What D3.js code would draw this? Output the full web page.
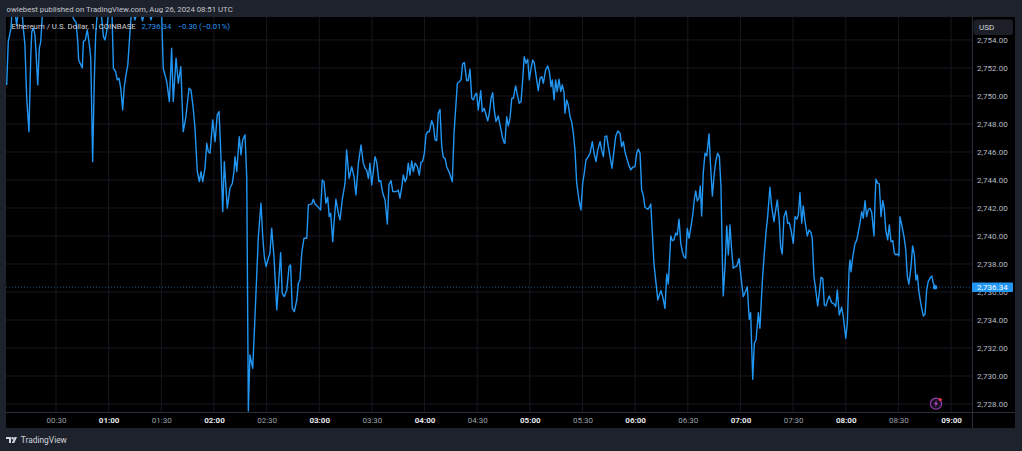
<!DOCTYPE html>
<html>
<head>
<meta charset="utf-8">
<script src="https://cdn.jsdelivr.net/npm/d3@7"></script>
<style>
  body { margin: 0; background: #1e222d; overflow: hidden; }
  svg { display: block; font-family: Roboto, "Noto Sans", sans-serif; }
</style>
</head>
<body>
<div id="chart"></div>
<script>

// ETH/USD 1-minute line, Aug 26 2024

// minutes after 00:00 UTC
const minutes = [
  1.9,2.8,4.4,4.8,5.8,6.6,7.6,8.5,9.5,10.5,11.2,12.3,
  13.3,14.6,15.6,16.2,17.1,18.0,18.6,19.6,20.5,21.3,22.2,23.2,
  24.9,26.6,28.3,30.0,31.7,33.4,35.1,36.8,38.9,40.3,41.4,42.4,
  42.9,44.2,45.0,45.6,46.7,47.8,48.8,49.8,50.9,51.8,52.6,53.5,
  54.5,55.6,57.0,57.9,58.9,59.8,60.8,61.9,62.7,64.0,64.9,65.9,
  66.9,68.0,68.8,69.9,70.9,71.8,72.7,73.9,75.0,76.2,77.3,78.4,
  79.3,80.4,81.9,83.0,84.1,85.3,86.4,87.8,89.3,90.2,91.1,92.1,
  93.1,94.6,95.9,96.8,98.4,99.7,101.1,102.5,103.9,105.8,106.9,108.2,
  109.2,110.5,111.7,112.6,113.6,114.9,115.9,116.8,117.8,119.3,120.6,121.9,
  122.9,123.8,125.0,125.9,127.6,129.1,130.5,131.4,132.0,133.0,134.4,135.4,
  136.4,137.7,138.7,139.6,140.5,142.1,143.4,145.3,146.8,147.8,148.7,149.7,
  151.0,151.9,152.9,154.2,155.8,156.7,158.0,158.9,160.1,161.5,162.8,163.7,
  164.6,165.8,167.2,168.1,169.0,170.0,171.3,172.9,173.8,175.7,176.6,177.6,
  179.5,180.8,181.7,182.7,183.8,184.8,185.7,186.5,187.7,188.4,189.5,190.9,
  191.8,193.1,194.7,195.6,197.0,198.5,199.8,200.9,202.3,203.8,205.1,206.1,
  207.0,208.0,208.9,209.9,210.8,211.8,212.7,214.0,215.0,216.2,217.5,218.8,
  219.7,220.9,221.9,224.1,225.0,226.0,227.2,227.9,228.9,229.8,230.7,231.7,
  232.7,233.6,234.6,235.9,237.0,238.0,238.9,239.9,240.8,241.8,242.7,244.1,
  245.0,246.0,246.9,247.8,248.8,249.8,250.7,251.7,252.6,253.9,254.9,255.8,
  256.8,257.8,258.7,259.8,260.8,261.7,262.7,264.0,264.9,265.9,266.9,267.8,
  268.8,269.7,270.6,272.0,272.9,273.9,274.8,276.0,276.9,277.9,278.8,279.7,
  280.7,282.0,283.0,284.3,285.3,285.8,286.8,287.7,288.7,289.7,290.6,291.9,
  293.1,294.0,295.0,295.9,296.8,297.8,298.8,299.7,300.7,301.6,302.5,303.9,
  304.8,305.8,306.8,307.7,309.0,310.2,311.1,312.1,312.8,313.8,314.7,315.6,
  316.6,317.6,318.5,319.5,320.0,321.0,321.9,322.9,323.8,324.8,325.7,326.7,
  328.0,329.1,330.1,331.0,332.0,333.3,334.3,335.6,336.6,337.7,338.7,340.0,
  340.9,341.9,342.8,343.8,344.7,345.7,346.8,348.0,348.9,350.1,351.4,352.3,
  353.3,354.2,355.5,356.7,357.6,358.6,359.9,360.9,361.8,362.8,363.7,364.6,
  365.6,367.2,368.1,368.9,369.8,370.7,371.9,372.9,373.8,374.7,375.7,377.0,
  378.0,378.9,380.3,381.2,382.1,383.1,384.0,385.0,386.0,386.9,387.8,388.8,
  389.7,390.7,391.8,392.8,393.7,394.5,395.4,396.4,397.1,397.9,398.8,399.8,
  400.8,402.1,402.8,404.0,405.1,406.1,407.0,408.0,408.9,409.7,410.2,411.2,
  412.2,413.1,414.0,415.0,415.9,416.9,417.9,419.2,420.3,421.6,422.6,423.9,
  425.0,425.8,427.0,427.9,428.9,430.2,431.1,432.5,433.6,434.6,435.5,436.8,
  437.8,439.1,440.1,441.0,442.1,442.9,443.8,444.8,446.0,446.9,447.8,448.8,
  450.1,451.1,452.1,453.0,453.9,454.9,455.8,456.8,458.1,459.1,460.2,460.9,
  461.9,462.9,464.0,464.9,465.9,466.9,467.8,468.7,469.7,470.6,472.0,473.3,
  474.3,475.2,476.3,477.7,478.6,480.0,480.9,481.9,482.4,483.0,484.0,485.3,
  486.2,487.2,488.1,489.1,490.0,491.0,491.9,492.9,493.8,494.8,496.1,496.7,
  497.2,498.2,499.1,500.1,501.1,502.0,502.8,503.9,504.8,505.8,506.8,507.7,
  508.6,509.6,510.3,510.9,511.9,513.2,514.2,515.1,516.0,517.2,518.1,519.1,
  520.0,520.8,521.7,522.9,524.2,525.2,526.1,527.0,528.0,529.0,529.9,530.9
];

// close price, USD
const prices = [
  2750.79,2753.88,2754.86,2755.86,2756.29,2756.00,2755.07,2756.15,2755.72,2756.29,2755.07,2753.65,
  2749.86,2747.45,2752.72,2754.60,2754.86,2754.36,2753.17,2750.79,2753.43,2753.86,2755.72,2756.29,
  2756.86,2757.43,2757.07,2757.72,2757.22,2756.72,2757.29,2756.57,2755.86,2755.43,2755.29,2753.88,
  2752.57,2752.22,2752.00,2753.88,2754.00,2754.72,2753.88,2752.72,2745.31,2751.02,2754.36,2755.86,
  2756.29,2756.15,2754.24,2754.00,2754.60,2755.86,2756.29,2756.00,2751.98,2751.74,2751.15,2751.27,
  2750.55,2749.00,2750.55,2751.50,2752.22,2753.88,2755.55,2756.00,2755.43,2755.93,2756.29,2755.86,
  2755.36,2756.00,2756.50,2756.15,2755.43,2756.00,2756.57,2756.86,2756.43,2755.86,2751.98,2751.50,
  2751.02,2749.60,2753.41,2749.60,2752.70,2750.91,2752.10,2747.45,2748.41,2750.55,2750.43,2749.12,
  2747.70,2744.60,2743.88,2744.60,2743.88,2744.84,2746.62,2746.02,2745.91,2748.29,2746.74,2748.65,
  2748.88,2746.27,2741.74,2745.31,2741.98,2743.41,2743.77,2744.60,2745.67,2744.60,2747.10,2745.79,
  2746.86,2747.22,2744.12,2727.50,2731.50,2730.55,2734.29,2739.95,2742.34,2739.95,2738.52,2737.81,
  2738.41,2738.77,2740.55,2738.52,2734.72,2736.38,2738.81,2735.91,2735.67,2736.15,2737.81,2737.93,
  2734.84,2734.60,2735.43,2736.62,2736.86,2738.77,2739.84,2739.84,2742.22,2742.29,2742.62,2742.29,
  2742.05,2741.86,2744.00,2743.88,2742.34,2742.77,2741.38,2741.62,2739.60,2740.91,2742.62,2741.62,
  2741.15,2742.57,2743.77,2746.15,2744.12,2744.95,2744.24,2742.93,2745.20,2746.50,2745.20,2744.84,
  2744.72,2744.12,2745.20,2743.65,2744.60,2745.67,2745.31,2743.88,2743.95,2743.05,2742.57,2740.86,
  2743.65,2743.95,2743.17,2743.17,2743.29,2742.70,2743.65,2744.36,2743.88,2744.12,2745.20,2744.36,
  2745.36,2744.60,2745.20,2744.95,2744.36,2745.27,2745.31,2745.91,2747.22,2747.45,2747.45,2748.24,
  2747.93,2746.86,2746.81,2748.77,2749.04,2746.38,2745.62,2745.55,2744.95,2744.60,2744.24,2743.88,
  2747.34,2749.24,2750.91,2751.02,2751.15,2752.29,2752.38,2751.10,2751.10,2751.91,2749.84,2749.72,
  2750.07,2750.20,2749.00,2750.38,2748.88,2749.12,2748.77,2748.22,2748.77,2749.84,2750.24,2749.00,
  2748.17,2748.57,2747.93,2747.10,2746.67,2746.62,2748.52,2747.86,2748.41,2749.84,2749.84,2750.72,
  2749.95,2749.48,2749.60,2751.15,2752.81,2752.34,2752.62,2751.15,2751.98,2752.57,2752.38,2751.15,
  2750.38,2751.27,2751.38,2750.91,2751.86,2752.15,2751.74,2750.67,2751.15,2749.72,2751.15,2750.31,
  2751.20,2750.31,2750.79,2750.20,2748.77,2749.72,2749.36,2748.52,2748.17,2747.34,2746.15,2743.77,
  2742.57,2741.86,2743.77,2744.48,2745.43,2745.67,2745.91,2746.74,2745.91,2745.31,2746.15,2746.74,
  2746.15,2745.67,2747.10,2747.15,2746.38,2745.67,2744.84,2746.15,2747.10,2747.50,2747.34,2746.38,
  2746.74,2746.02,2745.43,2744.95,2744.72,2744.91,2744.95,2745.91,2746.20,2745.91,2743.29,2742.93,
  2742.05,2741.91,2742.05,2742.29,2740.20,2738.05,2736.62,2735.43,2735.79,2736.10,2735.67,2734.84,
  2737.29,2736.57,2740.00,2739.67,2739.72,2740.20,2740.07,2741.20,2739.48,2738.88,2738.52,2738.41,
  2740.55,2739.84,2740.67,2741.50,2742.57,2743.22,2742.50,2742.70,2743.57,2741.43,2744.48,2745.91,
  2745.72,2747.29,2745.43,2742.86,2744.48,2745.43,2745.91,2745.67,2743.52,2738.29,2735.72,2737.81,
  2740.72,2738.65,2740.79,2739.00,2737.70,2737.81,2737.84,2738.40,2737.10,2735.67,2735.95,2736.38,
  2734.05,2734.52,2729.77,2732.34,2732.57,2734.52,2733.41,2736.86,2738.77,2740.31,2741.38,2743.48,
  2742.10,2741.02,2741.86,2742.57,2741.15,2739.24,2738.72,2741.38,2741.79,2740.91,2740.95,2740.43,
  2739.48,2741.38,2741.20,2741.50,2743.10,2740.91,2742.15,2741.02,2740.00,2740.43,2740.24,2739.84,
  2737.10,2736.15,2735.00,2735.91,2737.05,2736.98,2735.07,2735.00,2735.43,2735.72,2735.24,2735.15,
  2734.95,2736.15,2734.36,2734.91,2734.24,2732.70,2733.77,2737.57,2738.29,2737.45,2738.52,2739.48,
  2739.67,2740.31,2740.91,2741.74,2741.27,2742.52,2741.38,2741.91,2741.98,2741.67,2740.00,2742.57,
  2744.05,2743.77,2743.72,2741.38,2742.52,2741.91,2740.43,2739.72,2740.79,2739.60,2739.67,2738.77,
  2738.65,2738.72,2738.57,2741.38,2740.79,2739.95,2739.00,2737.10,2736.57,2737.81,2739.29,2738.65,
  2736.86,2737.22,2736.02,2735.07,2734.29,2734.43,2736.15,2736.74,2736.98,2737.15,2736.62,2736.34
];

// axis ticks
const timeTicks = [30,60,90,120,150,180,210,240,270,300,330,360,390,420,450,480,510,540];
const priceTicks = [2728,2730,2732,2734,2736,2738,2740,2742,2744,2746,2748,2750,2752,2754];
const lastPrice = 2736.34;
const change = "\u22120.30 (\u22120.01%)";

const width = 1022;
const height = 451;
const pane = {left: 6, right: 972, top: 17, bottom: 412};
const frameRight = 1015, frameBottom = 428;

const blue = "#2196f3";
const grid = "#16181e";
const border = "#2a2e39";
const textColor = "#d1d4dc";

const svg = d3.select("#chart")
  .append("svg")
  .attr("width", width)
  .attr("height", height);

// background + chart frame
svg.append("rect")
  .attr("width", width).attr("height", height)
  .attr("fill", "#1e222d");

svg.append("rect")
  .attr("x", pane.left).attr("y", pane.top)
  .attr("width", frameRight - pane.left).attr("height", frameBottom - pane.top)
  .attr("fill", "#000");

// scales
const x = d3.scaleLinear()
  .domain([1.51, 551.94])
  .range([pane.left, pane.right]);

const y = d3.scaleLinear()
  .domain([2727.43, 2755.64])
  .range([pane.bottom, pane.top]);

// grid
svg.append("g")
  .selectAll("line")
  .data(timeTicks)
  .join("line")
  .attr("x1", d => x(d)).attr("x2", d => x(d))
  .attr("y1", pane.top).attr("y2", pane.bottom)
  .attr("stroke", grid);

svg.append("g")
  .selectAll("line")
  .data(priceTicks)
  .join("line")
  .attr("x1", pane.left).attr("x2", pane.right)
  .attr("y1", d => y(d)).attr("y2", d => y(d))
  .attr("stroke", grid);

// axis borders
svg.append("line")
  .attr("x1", pane.right + 0.5).attr("x2", pane.right + 0.5)
  .attr("y1", pane.top).attr("y2", frameBottom)
  .attr("stroke", border);
svg.append("line")
  .attr("x1", pane.left).attr("x2", frameRight)
  .attr("y1", pane.bottom + 0.5).attr("y2", pane.bottom + 0.5)
  .attr("stroke", border);

// price line (dotted)
svg.append("line")
  .attr("x1", pane.left).attr("x2", pane.right)
  .attr("y1", y(lastPrice)).attr("y2", y(lastPrice))
  .attr("stroke", blue)
  .attr("stroke-opacity", 0.55)
  .attr("stroke-dasharray", "1,2");

// series line
svg.append("clipPath").attr("id", "pane-clip")
  .append("rect")
  .attr("x", pane.left).attr("y", pane.top)
  .attr("width", pane.right - pane.left).attr("height", pane.bottom - pane.top);

const data = d3.zip(minutes, prices);

const line = d3.line()
  .x(d => x(d[0]))
  .y(d => y(d[1]));

svg.append("path")
  .datum(data)
  .attr("clip-path", "url(#pane-clip)")
  .attr("fill", "none")
  .attr("stroke", blue)
  .attr("stroke-width", 1.4)
  .attr("stroke-linejoin", "round")
  .attr("d", line);

const last = data[data.length - 1];
svg.append("circle")
  .attr("cx", x(last[0])).attr("cy", y(last[1]))
  .attr("r", 2.2)
  .attr("fill", blue);

// price axis
const fmtPrice = d3.format(",.2f");
const yAxis = svg.append("g")
  .attr("transform", `translate(${pane.right}, 0)`)
  .call(d3.axisRight(y).tickValues(priceTicks).tickFormat(fmtPrice).tickSize(0).tickPadding(5));
yAxis.select(".domain").remove();
yAxis.selectAll("text")
  .attr("fill", "#b8bcc6")
  .attr("font-size", "8px")
  .attr("font-family", "Roboto, sans-serif");

// time axis
const fmtTime = m => String(Math.floor(m / 60)).padStart(2, "0") + ":" + String(m % 60).padStart(2, "0");
const xAxis = svg.append("g")
  .attr("transform", `translate(0, ${pane.bottom})`)
  .call(d3.axisBottom(x).tickValues(timeTicks).tickFormat(fmtTime).tickSize(0).tickPadding(5));
xAxis.select(".domain").remove();
xAxis.selectAll("text")
  .attr("fill", d => d % 60 === 0 ? "#e6e8ee" : "#9aa0ab")
  .attr("font-weight", d => d % 60 === 0 ? "bold" : "normal")
  .attr("font-size", "8px")
  .attr("font-family", "Roboto, sans-serif");

// last price label
const lp = svg.append("g").attr("transform", `translate(${pane.right}, ${y(lastPrice)})`);
lp.append("rect")
  .attr("x", 0).attr("y", -4.8)
  .attr("width", 41).attr("height", 9.6)
  .attr("rx", 1)
  .attr("fill", blue);
lp.append("text")
  .attr("x", 5).attr("y", 3)
  .attr("fill", "#fff")
  .attr("font-size", "8px")
  .text(fmtPrice(lastPrice));

// currency button
svg.append("rect")
  .attr("x", 973.5).attr("y", 19.5)
  .attr("width", 39.5).attr("height", 15.5)
  .attr("rx", 3)
  .attr("fill", "#1c1f27");
svg.append("text")
  .attr("x", 979).attr("y", 30)
  .attr("fill", textColor)
  .attr("font-size", "8px")
  .text("USD");

// header + legend
svg.append("text")
  .attr("x", 6.5).attr("y", 12.3)
  .attr("fill", "#c3c6ce")
  .attr("font-size", "7.8px")
  .text("owiebest published on TradingView.com, Aug 26, 2024 08:51 UTC");

svg.append("text")
  .attr("x", 11.5).attr("y", 29.3)
  .attr("fill", textColor)
  .attr("font-size", "7.8px")
  .text("Ethereum / U.S. Dollar, 1, COINBASE");

svg.append("text")
  .attr("x", 141.5).attr("y", 29.3)
  .attr("fill", blue)
  .attr("font-size", "7.8px")
  .text(fmtPrice(lastPrice));

svg.append("text")
  .attr("x", 177.5).attr("y", 29.3)
  .attr("fill", blue)
  .attr("font-size", "7.8px")
  .text(change);

// lightning badge
const badge = svg.append("g").attr("transform", "translate(936, 403.7)");
badge.append("circle")
  .attr("r", 5.6)
  .attr("fill", "#1b1020")
  .attr("stroke", "#9b3dbb")
  .attr("stroke-width", 1.1);
badge.append("path")
  .attr("d", "M0.8,-3.4 L-2,0.6 L-0.2,0.6 L-0.9,3.4 L2,-0.7 L0.2,-0.7 Z")
  .attr("fill", "#b14fd1");
badge.append("circle")
  .attr("cx", 4.2).attr("cy", -4.2)
  .attr("r", 1.6)
  .attr("fill", "#f23645");

// TradingView logo
const logo = svg.append("g").attr("transform", "translate(6, 437)").attr("fill", textColor);
logo.append("path").attr("d", "M0,0 H5 V6 H3 V2 H0 Z");
logo.append("circle").attr("cx", 6.7).attr("cy", 1.2).attr("r", 1.2);
logo.append("path").attr("d", "M8.6,0 H11 L8.2,6 H5.8 Z");
svg.append("text")
  .attr("x", 20.8).attr("y", 443.4)
  .attr("fill", textColor)
  .attr("font-size", "8.4px")
  .text("TradingView");

</script>
</body>
</html>
